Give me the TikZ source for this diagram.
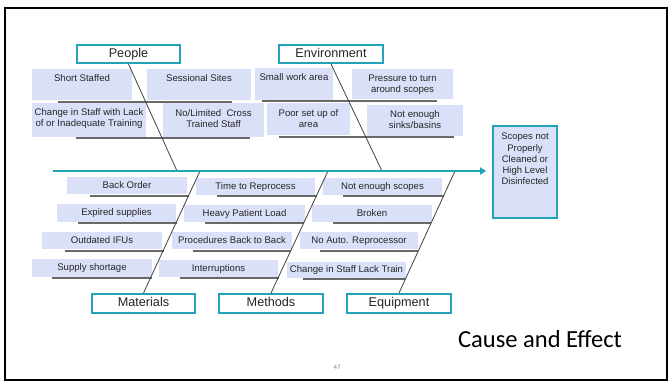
\documentclass[tikz,border=0pt]{standalone}
\usepackage{fontspec}
\setmainfont{Liberation Sans}
\newfontfamily\calib{Carlito}
\usetikzlibrary{arrows.meta}
\definecolor{teal1}{RGB}{35,163,186}
\definecolor{boxb}{RGB}{218,224,248}
\definecolor{uline}{RGB}{105,105,105}
\newcommand\fbx[5]{\node[fbox, minimum width={(#4-#2)*0.75pt}, minimum height={(#5-#3)*0.75pt}] (#1) at ({(#2+#4)/2},{(#3+#5)/2}) {};}
\newcommand\cbx[6]{\node[catbox, minimum width={(#4-#2)*0.75pt}, minimum height={(#5-#3)*0.75pt}] (#1) at ({(#2+#4)/2},{(#3+#5)/2}) {#6};}
\begin{document}
\begin{tikzpicture}[x=0.75pt,y=-0.75pt,
  fbox/.style={fill=boxb,draw=none,inner sep=0pt},
  tx/.style={font=\fontsize{7.2}{8.5}\selectfont, align=center, inner sep=0pt, text=black!85},
  tx1/.style={tx, text height=5.3pt, text depth=1.5pt},
  catbox/.style={draw=teal1, line width=1.5pt, fill=white, inner sep=0pt, font=\fontsize{9.5}{11}\selectfont, text=black!85, text height=7pt, text depth=2pt},
  uln/.style={draw=uline, line width=1.1pt},
  diag/.style={draw=black!75, line width=0.6pt},
  spine/.style={draw=teal1, line width=1.6pt}]
\useasboundingbox (0,0) rectangle (670,382);
\draw[line width=1.6pt] (5,8) rectangle (667,380);

% ---------- top boxes ----------
\fbx{ssb}{32}{69}{132}{100}
\fbx{spb}{147}{69}{251}{100}
\fbx{swb}{255}{68}{333}{100}
\fbx{ptb}{352}{69}{453}{99}
\fbx{clb}{32}{103}{146}{137}
\fbx{nlb}{163}{103}{264}{137}
\fbx{psb}{267}{103}{350}{135}
\fbx{nbb}{367}{105}{463}{136}
\node[tx1] (ss) at (82,79) {Short Staffed};
\node[tx1] (sp) at (199,79) {Sessional Sites};
\node[tx1] (sw) at (294,78) {Small work area};
\node[tx] (pt) at (402.5,84.5) {Pressure to turn\\around scopes};
\node[tx] (cl) at (89,118.5) {Change in Staff with Lack\\of or Inadequate Training};
\node[tx] (nl) at (213.5,118.5) {No/Limited~ Cross\\Trained Staff};
\node[tx] (ps) at (308.5,118.5) {Poor set up of\\area};
\node[tx] (nb) at (415,119.5) {Not enough\\sinks/basins};

% ---------- bottom boxes ----------
\fbx{bob}{67}{177}{187}{194}
\fbx{esb}{57}{204}{176}{222}
\fbx{oib}{42}{232}{162}{249}
\fbx{shb}{32}{259}{152}{277}
\fbx{trb}{196}{178}{315}{195}
\fbx{hpb}{184}{205}{305}{222}
\fbx{pbb}{172}{232}{292}{249}
\fbx{inb}{159}{260}{278}{277}
\fbx{neb}{323}{178}{442}{195}
\fbx{brb}{312}{205}{432}{222}
\fbx{nab}{300}{232}{418}{249}
\fbx{csb}{287}{262}{406}{278}
\node[tx1] (bo) at (bob) {Back Order};
\node[tx1] (es) at (esb) {Expired supplies};
\node[tx1] (oi) at (oib) {Outdated IFUs};
\node[tx1] (sh) at (shb) {Supply shortage};
\node[tx1] (tr) at (trb) {Time to Reprocess};
\node[tx1] (hp) at (hpb) {Heavy Patient Load};
\node[tx1] (pb) at (pbb) {Procedures Back to Back};
\node[tx1] (in) at (inb) {Interruptions};
\node[tx1] (ne) at (neb) {Not enough scopes};
\node[tx1] (br) at (brb) {Broken};
\node[tx1] (na) at (nab) {No Auto. Reprocessor};
\node[tx1] (cs) at (csb) {Change in Staff Lack Train};

% ---------- underlines ----------
\draw[uln] (58,102) -- (232,102);
\draw[uln] (262,101) -- (437,101);
\draw[uln] (76,138) -- (250,138);
\draw[uln] (279,137) -- (454,137);
\draw[uln] (90,196) -- (189,196);
\draw[uln] (78,223) -- (177,223);
\draw[uln] (65,251) -- (164,251);
\draw[uln] (52,278) -- (152,278);
\draw[uln] (217,196) -- (317,196);
\draw[uln] (205,223) -- (304,223);
\draw[uln] (193,251) -- (291,251);
\draw[uln] (180,278) -- (279,278);
\draw[uln] (343,196) -- (444,196);
\draw[uln] (333,223) -- (431,223);
\draw[uln] (320,251) -- (418,251);
\draw[uln] (303,279) -- (405,279);

% ---------- category boxes ----------
\cbx{people}{77}{45}{180}{63}{People}
\cbx{env}{279}{45}{383}{63}{Environment}
\cbx{mat}{92}{294}{195}{313}{Materials}
\cbx{meth}{219}{294}{323}{313}{Methods}
\cbx{equip}{347}{294}{451}{313}{Equipment}

% ---------- effect ----------
\node[draw=teal1, line width=1.5pt, fill=boxb, inner sep=0pt, minimum width={64*0.75pt}, minimum height={92*0.75pt}] (eff) at (525,172) {};
\node[font=\fontsize{7.1}{8.4}\selectfont, align=center, inner sep=0pt, text=black!85] (efft) at (525,159) {Scopes not\\Properly\\Cleaned or\\High Level\\Disinfected};

% ---------- bones ----------
\coordinate (sL) at (53,171);
\coordinate (pj) at (177,171);
\coordinate (ej) at (382,171);
\coordinate (mj) at (200,171);
\coordinate (tj) at (328,171);
\coordinate (qj) at (455,171);
\coordinate (sR) at (486,171);
\draw[diag] (people.south) -- (pj);
\draw[diag] (env.south) -- (ej);
\draw[diag] (mat.north) -- (mj);
\draw[diag] (meth.north) -- (tj);
\draw[diag] (equip.north) -- (qj);
\draw[spine, -{Triangle[length=4.5pt,width=5.5pt]}] (sL) -- (sR);

% ---------- titles ----------
\node[font=\calib\fontsize{18.4}{22}\selectfont, inner sep=0pt] (ce) at (540,339) {Cause and Effect};
\node[font=\calib\fontsize{5}{6}\selectfont, text=black!50, inner sep=0pt] (pg) at (337,367) {47};
\end{tikzpicture}
\end{document}
